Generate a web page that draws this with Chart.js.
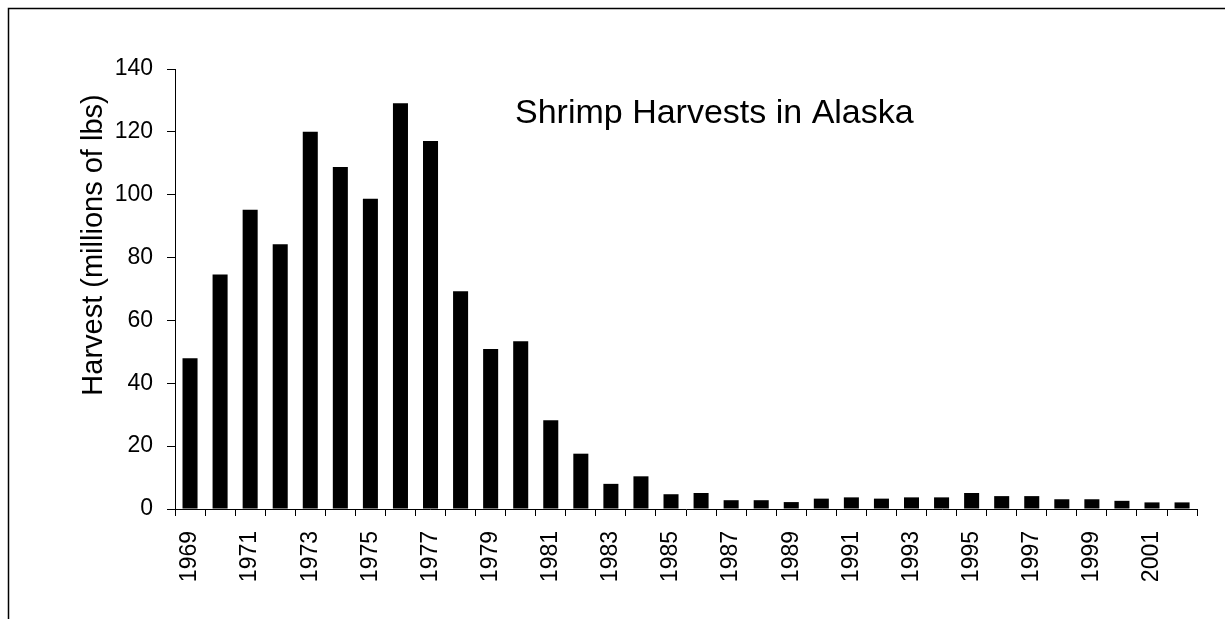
<!DOCTYPE html>
<html>
<head>
<meta charset="utf-8">
<script src="https://cdn.jsdelivr.net/npm/chart.js@4/dist/chart.umd.min.js"></script>
<style>
  html, body { margin: 0; padding: 0; background: #fff; }
  #wrap { width: 1225px; height: 619px; }
</style>
</head>
<body>
<div id="wrap"><canvas id="shrimpChart" width="1225" height="619"></canvas></div>
<script>
// chart values
const years = ['1969', '1970', '1971', '1972', '1973', '1974', '1975', '1976', '1977', '1978',
  '1979', '1980', '1981', '1982', '1983', '1984', '1985', '1986', '1987', '1988',
  '1989', '1990', '1991', '1992', '1993', '1994', '1995', '1996', '1997', '1998',
  '1999', '2000', '2001', '2002'];
const harvest = [48, 74.6, 95.2, 84.2, 120, 108.8, 98.7, 129.1, 117.1, 69.3,
  50.9, 53.4, 28.2, 17.6, 8.0, 10.4, 4.7, 5.1, 2.8, 2.8,
  2.2, 3.3, 3.7, 3.3, 3.7, 3.7, 5.1, 4.1, 4.1, 3.1,
  3.1, 2.6, 2.1, 2.1];
const yTicks = [0, 20, 40, 60, 80, 100, 120, 140];
const chartTitle = 'Shrimp Harvests in Alaska';
const yTitle = 'Harvest (millions of lbs)';

const FONT = "'Liberation Sans', Arial, sans-serif";

// ── border frame, chart title and axis title ─────────
const framePlugin = {
  id: 'frame',
  afterDraw(chart) {
    const ctx = chart.ctx;
    ctx.save();
    ctx.strokeStyle = '#000';
    ctx.lineWidth = 1.5;
    ctx.strokeRect(8.5, 8.5, 1400, 800);
    ctx.fillStyle = '#000';
    ctx.font = '34px ' + FONT;
    ctx.textBaseline = 'alphabetic';
    ctx.fillText(chartTitle, 515, 123);

    // axis title sits a bit above the middle of the axis, like the original
    ctx.font = '29px ' + FONT;
    ctx.textAlign = 'center';
    ctx.textBaseline = 'middle';
    ctx.translate(94, 245);
    ctx.rotate(-Math.PI / 2);
    ctx.fillText(yTitle, 0, 0);
    ctx.restore();
  }
};

new Chart(document.getElementById('shrimpChart'), {
  type: 'bar',
  data: {
    labels: years,
    datasets: [{
      label: 'Harvest',
      data: harvest,
      backgroundColor: '#000',
      borderWidth: 0,
      categoryPercentage: 1,
      barPercentage: 0.5
    }]
  },
  options: {
    responsive: false,
    animation: false,
    layout: { padding: { top: 69, right: 23, left: 0, bottom: 0 } },
    plugins: { legend: { display: false }, tooltip: { enabled: false } },
    scales: {
      x: {
        grid: { display: true, drawOnChartArea: false, offset: true, color: '#000', tickLength: 7, tickWidth: 1 },
        border: { color: '#000', width: 1 },
        ticks: {
          autoSkip: false,
          maxRotation: 90,
          minRotation: 90,
          padding: 15,
          color: '#000',
          font: { family: FONT, size: 23 },
          callback: (v, i) => (i % 2 === 0 ? years[i] : '')
        },
        afterFit: s => { s.height = 110; }
      },
      y: {
        min: 0,
        max: 140,
        afterBuildTicks: s => { s.ticks = yTicks.map(v => ({ value: v })); },
        grid: { display: true, drawOnChartArea: false, color: '#000', tickLength: 8, tickWidth: 1 },
        border: { color: '#000', width: 1 },
        ticks: { padding: 14, color: '#000', font: { family: FONT, size: 23 } },
        afterFit: s => { s.width = 175; }
      }
    }
  },
  plugins: [framePlugin]
});
</script>
</body>
</html>
